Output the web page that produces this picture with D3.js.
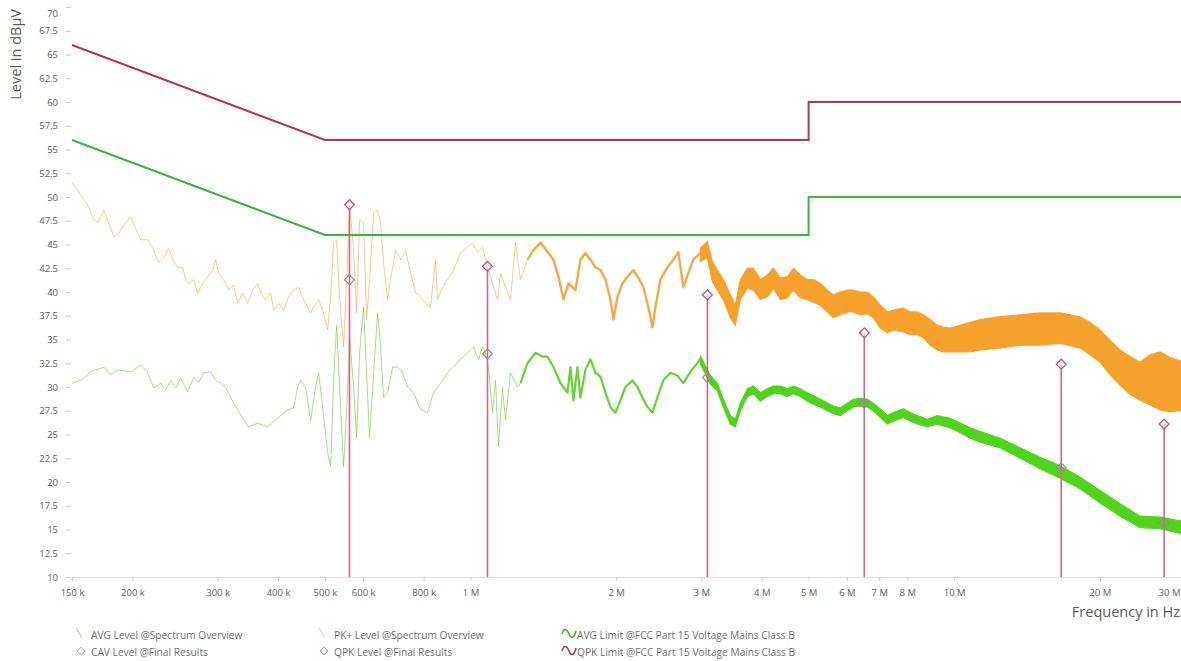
<!DOCTYPE html>
<html>
<head>
<meta charset="utf-8">
<script src="https://cdn.jsdelivr.net/npm/d3@7"></script>
<style>
  html, body { margin: 0; padding: 0; background: #fff; }
  svg { display: block; font-family: "Open Sans", "Segoe UI", sans-serif; }
</style>
</head>
<body>
<svg id="chart" width="1181" height="661"></svg>
<script>
// ---- Axis ticks ----
const xTickValues = [0.15, 0.2, 0.3, 0.4, 0.5, 0.6, 0.8, 1, 2, 3, 4, 5, 6, 7, 8, 10, 20, 30];
const xTickLabels = ["150 k", "200 k", "300 k", "400 k", "500 k", "600 k", "800 k", "1 M", "2 M", "3 M",
                     "4 M", "5 M", "6 M", "7 M", "8 M", "10 M", "20 M", "30 M"];
const yTickValues = [10, 12.5, 15, 17.5, 20, 22.5, 25, 27.5, 30, 32.5, 35, 37.5, 40, 42.5, 45, 47.5,
                     50, 52.5, 55, 57.5, 60, 62.5, 65, 67.5, 70];
const yTickLabels = ["10", "12.5", "15", "17.5", "20", "22.5", "25", "27.5", "30", "32.5", "35", "37.5",
                     "40", "42.5", "45", "47.5", "50", "52.5", "55", "57.5", "60", "62.5", "65", "67.5", "70"];

// ---- PK+ level, spectrum overview (frequency in MHz, level in dBµV) ----
const pkFreq = [0.150, 0.160, 0.1625, 0.1664, 0.1696, 0.1745, 0.1787, 0.1830, 0.1874, 0.1937,
  0.1984, 0.2031, 0.2081, 0.2151, 0.2203, 0.2267, 0.2321, 0.2377, 0.2423, 0.2481,
  0.2541, 0.2577, 0.2614, 0.2677, 0.2729, 0.2794, 0.2862, 0.2931, 0.2973, 0.3015,
  0.3088, 0.3162, 0.3239, 0.3301, 0.3380, 0.3462, 0.3545, 0.3630, 0.3682, 0.3771,
  0.3862, 0.3917, 0.4011, 0.4108, 0.4207, 0.4308, 0.4412, 0.4518, 0.4671, 0.4738,
  0.4852, 0.4969, 0.5065, 0.5138, 0.5212, 0.5286, 0.5362, 0.5465, 0.5544, 0.5623,
  0.5731, 0.5814, 0.5898, 0.6011, 0.6097, 0.6185, 0.6304, 0.6425, 0.6517, 0.6611,
  0.6738, 0.6835, 0.6999, 0.7168, 0.7341, 0.7517, 0.7698, 0.7883, 0.8073, 0.8267,
  0.8466, 0.8547, 0.8753, 0.8964, 0.9223, 0.9535, 0.9858, 1.0096, 1.0339, 1.0588,
  1.0842, 1.1103, 1.1371, 1.1534, 1.1812, 1.2096, 1.2387, 1.2686, 1.3115, 1.3495,
  1.3952, 1.4493, 1.4842, 1.5199, 1.5565, 1.5940, 1.6479, 1.6875, 1.7282, 1.7698,
  1.8124, 1.8561, 1.9008, 1.9466, 1.9746, 2.0126, 2.0610, 2.1107, 2.1718, 2.2239,
  2.2773, 2.3321, 2.3769, 2.4111, 2.4692, 2.5528, 2.6267, 2.6900, 2.7547, 2.8210,
  2.8889, 2.9868];
const pkLevel = [51.5, 49.5, 48.9, 47.6, 47.3, 48.6, 47.3, 45.8, 46.2, 47.3,
  47.9, 46.7, 45.5, 45.5, 44.6, 43.1, 43.6, 44.6, 43.4, 42.6,
  42.6, 41.3, 40.9, 41.3, 39.9, 40.9, 41.6, 42.3, 43.4, 42.0,
  41.3, 40.2, 40.7, 38.8, 39.9, 38.8, 40.2, 40.9, 39.9, 39.2,
  39.9, 38.1, 38.8, 38.1, 39.5, 40.2, 40.5, 39.2, 37.8, 38.4,
  39.2, 37.8, 36.0, 39.5, 45.2, 45.5, 39.5, 34.2, 41.3, 49.0,
  44.7, 37.8, 47.6, 47.3, 37.1, 41.3, 48.3, 48.6, 47.3, 43.1,
  39.2, 41.3, 44.4, 43.4, 44.4, 42.0, 39.9, 39.5, 38.8, 38.4,
  43.4, 39.2, 40.5, 41.3, 42.3, 44.1, 44.7, 45.2, 44.2, 44.7,
  42.6, 40.9, 39.2, 42.0, 40.5, 39.2, 45.2, 41.3, 43.4, 44.4,
  45.2, 44.1, 43.4, 41.6, 39.2, 40.9, 40.2, 43.4, 44.1, 43.4,
  42.6, 42.3, 41.3, 39.2, 37.1, 39.5, 40.9, 41.6, 42.3, 41.5,
  40.5, 38.4, 36.3, 38.4, 41.3, 42.6, 43.4, 44.2, 40.5, 42.0,
  43.4, 44.1];

// Dense part of the PK+ sweep: upper and lower edge of the noise band
const pkBandFreq = [2.987, 3.088, 3.162, 3.239, 3.332, 3.445, 3.528, 3.613, 3.735, 3.844,
  3.974, 4.108, 4.227, 4.370, 4.519, 4.649, 4.807, 4.970, 5.114, 5.287,
  5.466, 5.624, 5.814, 6.011, 6.185, 6.395, 6.611, 6.803, 7.033, 7.271,
  7.482, 7.847, 8.112, 8.387, 8.630, 8.922, 9.224, 9.491, 9.813, 10.29,
  10.79, 11.32, 12.45, 13.69, 15.05, 16.56, 18.21, 19.10, 20.03, 21.00,
  22.03, 23.10, 24.23, 25.41, 26.65, 27.95, 30];
const pkBandHigh = [44.6, 45.3, 43.2, 42.3, 41.3, 39.7, 38.6, 41.3, 42.5, 42.5,
  41.3, 41.8, 42.5, 41.5, 41.6, 42.5, 41.8, 41.3, 41.3, 40.9,
  40.2, 39.7, 40.0, 40.2, 40.2, 40.0, 40.0, 39.5, 38.6, 37.9,
  38.1, 38.3, 37.9, 37.9, 37.6, 37.1, 36.5, 36.3, 36.2, 36.5,
  36.8, 37.1, 37.4, 37.6, 37.8, 37.8, 37.4, 36.8, 36.0, 34.9,
  33.9, 33.2, 32.6, 33.4, 33.7, 33.1, 32.6];
const pkBandLow = [43.2, 43.6, 41.1, 40.2, 39.2, 37.3, 36.5, 39.2, 40.4, 40.2,
  39.2, 39.5, 40.4, 39.2, 39.4, 40.2, 39.4, 39.2, 38.9, 38.6,
  37.9, 37.3, 37.6, 37.9, 37.9, 37.6, 37.7, 37.3, 36.2, 35.7,
  36.0, 35.8, 35.5, 35.5, 35.2, 34.4, 33.9, 33.7, 33.7, 33.7,
  33.7, 33.9, 34.1, 34.4, 34.4, 34.6, 34.1, 33.4, 32.6, 31.3,
  30.2, 29.2, 28.6, 28.1, 27.6, 27.4, 27.6];

// ---- AVG level, spectrum overview ----
const avgFreq = [0.150, 0.1564, 0.1640, 0.1745, 0.1804, 0.1865, 0.1984, 0.2081, 0.2151, 0.2213,
  0.2288, 0.2343, 0.2400, 0.2457, 0.2517, 0.2602, 0.2677, 0.2742, 0.2808, 0.2903,
  0.2973, 0.3044, 0.3118, 0.3239, 0.3380, 0.3478, 0.3630, 0.3807, 0.3992, 0.4187,
  0.4308, 0.4391, 0.4454, 0.4561, 0.4671, 0.4783, 0.4852, 0.4946, 0.5065, 0.5138,
  0.5212, 0.5286, 0.5362, 0.5465, 0.5544, 0.5623, 0.5731, 0.5814, 0.5898, 0.6011,
  0.6097, 0.6185, 0.6304, 0.6425, 0.6517, 0.6611, 0.6738, 0.6900, 0.7066, 0.7236,
  0.7410, 0.7625, 0.7883, 0.8150, 0.8386, 0.8670, 0.8964, 0.9223, 0.9535, 0.9858,
  1.0144, 1.0388, 1.0588, 1.0740, 1.0894, 1.1103, 1.1263, 1.1425, 1.1644, 1.1812,
  1.2096, 1.2506, 1.2686, 1.3115, 1.3624, 1.4085, 1.4424, 1.4842, 1.5344, 1.5864,
  1.6092, 1.6323, 1.6636, 1.6875, 1.7282, 1.7698, 1.8124, 1.8561, 1.9008, 1.9466,
  1.9935, 2.0415, 2.0907, 2.1615, 2.2134, 2.2665, 2.3211, 2.3769, 2.4342, 2.5047,
  2.5895, 2.6772, 2.7547, 2.8480, 2.9445, 2.9868];
const avgLevel = [30.4, 30.7, 31.6, 32.1, 31.3, 31.8, 31.6, 32.3, 31.5, 29.9,
  30.4, 29.7, 30.7, 29.9, 30.9, 29.5, 31.0, 30.5, 31.5, 31.6,
  30.7, 30.4, 29.9, 28.3, 26.7, 25.8, 26.2, 25.8, 26.7, 27.6,
  27.8, 30.0, 30.7, 30.0, 26.5, 30.0, 31.5, 27.9, 23.1, 21.6,
  30.7, 36.5, 30.0, 21.6, 27.3, 35.3, 30.0, 24.7, 33.6, 38.4,
  31.5, 24.7, 31.5, 37.8, 34.2, 28.9, 29.4, 32.1, 32.1, 31.5,
  30.0, 29.4, 27.6, 27.3, 29.4, 30.4, 31.5, 32.1, 32.9, 33.6,
  34.2, 32.9, 34.2, 33.6, 32.1, 27.3, 30.7, 23.7, 30.0, 26.5,
  31.5, 30.0, 30.4, 32.5, 33.6, 33.2, 33.2, 32.1, 30.4, 29.4,
  32.1, 28.6, 32.1, 28.9, 31.8, 32.9, 31.5, 31.1, 29.4, 27.9,
  27.3, 28.6, 30.0, 30.7, 30.0, 28.9, 27.9, 27.3, 28.9, 30.7,
  31.5, 31.2, 30.4, 31.6, 32.5, 33.0];

// Dense part of the AVG sweep: upper and lower edge of the noise band
const avgBandFreq = [2.987, 3.059, 3.132, 3.239, 3.332, 3.445, 3.528, 3.613, 3.735, 3.844,
  3.974, 4.108, 4.227, 4.370, 4.519, 4.649, 4.807, 4.970, 5.114, 5.287,
  5.466, 5.624, 5.814, 6.011, 6.185, 6.395, 6.611, 6.803, 7.033, 7.271,
  7.482, 7.847, 8.112, 8.387, 8.796, 9.224, 9.813, 10.29, 10.79, 11.32,
  12.45, 13.69, 15.05, 16.56, 18.21, 20.03, 22.03, 24.23, 26.65, 29.31, 30];
const avgBandHigh = [33.3, 32.2, 31.2, 30.4, 28.7, 27.0, 26.6, 28.3, 29.8, 30.1,
  29.4, 29.8, 30.1, 30.1, 29.8, 30.1, 29.8, 29.4, 29.1, 28.7,
  28.3, 28.0, 27.8, 28.3, 28.7, 28.8, 28.7, 28.3, 27.7, 27.0,
  27.3, 27.7, 27.3, 27.0, 26.6, 27.0, 26.7, 26.2, 25.7, 25.3,
  24.6, 23.6, 22.6, 21.7, 20.5, 19.1, 17.7, 16.4, 16.3, 15.9, 15.9];
const avgBandLow = [32.4, 31.4, 30.3, 29.6, 27.9, 26.1, 25.8, 27.5, 29.0, 29.3,
  28.5, 29.0, 29.3, 29.3, 29.0, 29.3, 29.0, 28.5, 28.2, 27.9,
  27.5, 27.2, 27.0, 27.5, 27.9, 28.0, 27.9, 27.5, 26.8, 26.1,
  26.4, 26.8, 26.4, 26.1, 25.8, 26.1, 25.7, 25.2, 24.6, 24.2,
  23.6, 22.5, 21.4, 20.4, 19.3, 17.8, 16.4, 15.2, 15.1, 14.6, 14.6];

// ---- FCC Part 15 conducted limits, voltage mains, class B ----
const limitFreq = [0.15, 0.5, 5, 5, 30];
const qpkLimit = [66, 56, 56, 60, 60];
const avgLimit = [56, 46, 46, 50, 50];

// ---- Final measurement results ----
const resultFreq = [0.562, 1.084, 3.088, 6.517, 16.64, 27.16];
const qpkResult = [49.2, 42.7, 39.7, 35.7, 32.4, 26.1];
const cavResult = [41.3, 33.5, 31.0, 28.3, 21.5, 15.7];

// ---- Layout ----
const W = 1181;
const svg = d3.select("#chart");
const plot = { left: 72, right: 1185, top: 7, bottom: 577 };
const x = d3.scaleLog().domain([0.15, 30]).range([plot.left, plot.right]);
const y = d3.scaleLinear().domain([10, 70]).range([plot.bottom, plot.top]);

const pts = (fs, vs) => fs.map((f, i) => ({ f, v: vs[i] }));
const band = (fs, hi, lo) => fs.map((f, i) => ({ f, hi: hi[i], lo: lo[i] }));
const range = (arr, a, b) => arr.filter(d => d.f >= a && d.f <= b);

const line = d3.line().x(d => x(d.f)).y(d => y(d.v));
const area = d3.area().x(d => x(d.f)).y0(d => y(d.lo)).y1(d => y(d.hi));

// ---- Axes ----
const yAxis = d3.axisLeft(y).tickValues(yTickValues).tickSize(5).tickPadding(8)
  .tickFormat((d, i) => yTickLabels[i]);
const gy = svg.append("g").attr("transform", `translate(${plot.left - 1},0)`).call(yAxis);
gy.select(".domain").remove();
gy.selectAll(".tick line").attr("stroke", "#c8c8c8");
gy.selectAll(".tick text").attr("fill", "#606060").style("font-size", "9.5px")
  .style("font-family", "'Open Sans', sans-serif");
// keep the topmost label inside the view
gy.selectAll(".tick").filter(d => d === 70).select("text").attr("dy", "0.95em");

const xAxis = d3.axisBottom(x).tickValues(xTickValues).tickSize(4).tickSizeOuter(0).tickPadding(8)
  .tickFormat((d, i) => xTickLabels[i]);
const gx = svg.append("g").attr("transform", `translate(0,${plot.bottom})`).call(xAxis);
gx.select(".domain").attr("stroke", "#e2e2e2");
gx.selectAll(".tick line").attr("stroke", "#c8c8c8");
gx.selectAll(".tick text").attr("fill", "#606060").style("font-size", "9.5px")
  .style("font-family", "'Open Sans', sans-serif");
// keep the rightmost label inside the view
gx.selectAll(".tick").filter(d => d === 30).select("text")
  .attr("text-anchor", "end").attr("x", W - 1 - x(30));

svg.append("text")
  .attr("transform", "translate(17,9) rotate(-90)")
  .attr("text-anchor", "end").attr("dominant-baseline", "middle")
  .attr("fill", "#5a5a5a").style("font-size", "14.5px")
  .text("Level in dBµV");

svg.append("text")
  .attr("x", W - 1).attr("y", 617)
  .attr("text-anchor", "end").attr("fill", "#5a5a5a").style("font-size", "14.5px")
  .text("Frequency in Hz");

// ---- Spectrum traces ----
const traces = svg.append("g");
const pkPts = pts(pkFreq, pkLevel);
const avgPts = pts(avgFreq, avgLevel);

traces.append("path").datum(range(avgPts, 0.15, 1.2686)).attr("d", line)
  .attr("fill", "none").attr("stroke", "#62cf2a").attr("stroke-width", 1).attr("stroke-opacity", 0.6)
  .attr("stroke-linejoin", "round");
traces.append("path").datum(range(avgPts, 1.2686, 3)).attr("d", line)
  .attr("fill", "none").attr("stroke", "#52d01c").attr("stroke-width", 2.2).attr("stroke-opacity", 0.9)
  .attr("stroke-linejoin", "round");
traces.append("path").datum(band(avgBandFreq, avgBandHigh, avgBandLow)).attr("d", area)
  .attr("fill", "#4fd41a").attr("stroke", "#4fd41a").attr("stroke-width", 1.2);

traces.append("path").datum(range(pkPts, 0.15, 1.3115)).attr("d", line)
  .attr("fill", "none").attr("stroke", "#f3a63c").attr("stroke-width", 1).attr("stroke-opacity", 0.6)
  .attr("stroke-linejoin", "round");
traces.append("path").datum(range(pkPts, 1.3115, 3)).attr("d", line)
  .attr("fill", "none").attr("stroke", "#f4a031").attr("stroke-width", 2.4).attr("stroke-opacity", 0.9)
  .attr("stroke-linejoin", "round");
traces.append("path").datum(band(pkBandFreq, pkBandHigh, pkBandLow)).attr("d", area)
  .attr("fill", "#f6a12c").attr("stroke", "#f6a12c").attr("stroke-width", 1.2);

// ---- Limit lines ----
svg.append("path").datum(pts(limitFreq, avgLimit)).attr("d", line)
  .attr("fill", "none").attr("stroke", "#3db43b").attr("stroke-width", 2);
svg.append("path").datum(pts(limitFreq, qpkLimit)).attr("d", line)
  .attr("fill", "none").attr("stroke", "#b93453").attr("stroke-width", 2);

// ---- Final results ----
const results = resultFreq.map((f, i) => ({ f, qpk: qpkResult[i], cav: cavResult[i] }));
svg.append("g").selectAll("line").data(results).join("line")
  .attr("x1", d => x(d.f)).attr("x2", d => x(d.f))
  .attr("y1", d => y(d.qpk)).attr("y2", y(10))
  .attr("stroke", "#d9668a").attr("stroke-width", 1.6);

const diamond = d3.symbol().type(d3.symbolDiamond2).size(62);
svg.append("g").selectAll("path").data(results).join("path")
  .attr("d", diamond)
  .attr("transform", d => `translate(${x(d.f)},${y(d.cav)})`)
  .attr("fill", "none").attr("stroke", "#8f8f8f").attr("stroke-width", 1.2);
svg.append("g").selectAll("path").data(results).join("path")
  .attr("d", diamond)
  .attr("transform", d => `translate(${x(d.f)},${y(d.qpk)})`)
  .attr("fill", "#ffffff").attr("fill-opacity", 0.55)
  .attr("stroke", "#c6527a").attr("stroke-width", 1.3);

// ---- Legend ----
const legendItems = [
  { col: 0, row: 0, icon: "trace", color: "#b9c9ad", text: "AVG Level @Spectrum Overview" },
  { col: 1, row: 0, icon: "trace", color: "#f1c7c4", text: "PK+ Level @Spectrum Overview" },
  { col: 2, row: 0, icon: "wave", color: "#3db43b", text: "AVG Limit @FCC Part 15 Voltage Mains Class B" },
  { col: 0, row: 1, icon: "diamond", color: "#a0a0a0", text: "CAV Level @Final Results" },
  { col: 1, row: 1, icon: "diamond", color: "#c6527a", text: "QPK Level @Final Results" },
  { col: 2, row: 1, icon: "wave", color: "#b93453", text: "QPK Limit @FCC Part 15 Voltage Mains Class B" }
];
const colX = [80, 323, 565];
const rowY = [635, 652];
const legend = svg.append("g").style("font-size", "10.2px").attr("fill", "#707070");
legendItems.forEach(it => {
  const g = legend.append("g").attr("transform", `translate(${colX[it.col]},${rowY[it.row]})`);
  if (it.icon === "trace") {
    g.append("path").attr("d", "M-4,-7 L2,3").attr("stroke", it.color).attr("stroke-width", 1.2).attr("fill", "none");
  } else if (it.icon === "diamond") {
    g.append("path").attr("d", d3.symbol().type(d3.symbolDiamond2).size(36)).attr("transform", "translate(1,-1)")
      .attr("fill", "none").attr("stroke", it.color).attr("stroke-width", 1);
  } else {
    g.append("path").attr("d", "M-3,-1 C-1,-8 2,-6 4,-1 C6,4 9,4 11,-4")
      .attr("fill", "none").attr("stroke", it.color).attr("stroke-width", 1.6);
  }
  g.append("text").attr("x", it.icon === "wave" ? 12 : 11).attr("y", 3.5).text(it.text);
});
</script>
</body>
</html>
